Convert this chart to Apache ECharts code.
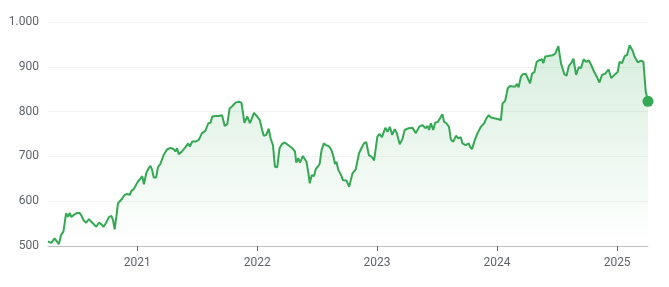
<!DOCTYPE html>
<html>
<head>
<meta charset="utf-8">
<script src="https://cdn.jsdelivr.net/npm/echarts@6/dist/echarts.min.js"></script>
<style>
html,body{margin:0;padding:0;background:#fff;}
#c{width:669px;height:287px;}
</style>
</head>
<body>
<div id="c"></div>
<script>
const dates = [
'2020-04-04','2020-04-14','2020-04-24','2020-04-29','2020-05-07','2020-05-14','2020-05-21','2020-05-29',
'2020-06-04','2020-06-09','2020-06-14','2020-06-21','2020-06-29','2020-07-09','2020-07-14','2020-07-21',
'2020-07-29','2020-08-07','2020-08-14','2020-08-19','2020-08-29','2020-09-06','2020-09-13','2020-09-20',
'2020-09-28','2020-10-07','2020-10-14','2020-10-19','2020-10-24','2020-10-29','2020-11-03','2020-11-10',
'2020-11-16','2020-11-23','2020-12-01','2020-12-09','2020-12-14','2020-12-21','2020-12-27','2021-01-03',
'2021-01-11','2021-01-16','2021-01-21','2021-01-28','2021-02-04','2021-02-10','2021-02-15','2021-02-20',
'2021-02-27','2021-03-05','2021-03-12','2021-03-22','2021-04-02','2021-04-12','2021-04-22','2021-04-27',
'2021-05-02','2021-05-07','2021-05-17','2021-05-27','2021-06-05','2021-06-10','2021-06-17','2021-06-27',
'2021-07-07','2021-07-17','2021-07-27','2021-08-05','2021-08-12','2021-08-17','2021-08-27','2021-09-06',
'2021-09-16','2021-09-24','2021-10-02','2021-10-09','2021-10-17','2021-10-22','2021-10-27','2021-11-06',
'2021-11-14','2021-11-19','2021-11-23','2021-12-02','2021-12-10','2021-12-22','2022-01-01','2022-01-09',
'2022-01-16','2022-01-21','2022-01-29','2022-02-05','2022-02-11','2022-02-18','2022-02-24','2022-03-03',
'2022-03-10','2022-03-18','2022-03-26','2022-04-06','2022-04-18','2022-04-26','2022-04-30','2022-05-06',
'2022-05-11','2022-05-16','2022-05-20','2022-05-26','2022-05-31','2022-06-06','2022-06-10','2022-06-16',
'2022-06-23','2022-06-28','2022-07-03','2022-07-10','2022-07-16','2022-07-23','2022-07-30','2022-08-07',
'2022-08-14','2022-08-20','2022-08-26','2022-08-30','2022-09-05','2022-09-15','2022-09-19','2022-09-25',
'2022-09-30','2022-10-08','2022-10-18','2022-10-28','2022-11-07','2022-11-17','2022-11-22','2022-11-29',
'2022-12-07','2022-12-17','2022-12-23','2023-01-02','2023-01-08','2023-01-16','2023-01-26','2023-02-02',
'2023-02-09','2023-02-16','2023-02-24','2023-03-02','2023-03-11','2023-03-19','2023-03-26','2023-04-07',
'2023-04-19','2023-04-29','2023-05-10','2023-05-19','2023-05-29','2023-06-04','2023-06-08','2023-06-14',
'2023-06-21','2023-06-27','2023-07-05','2023-07-11','2023-07-19','2023-07-24','2023-07-31','2023-08-08',
'2023-08-14','2023-08-21','2023-08-29','2023-09-06','2023-09-13','2023-09-18','2023-09-28','2023-10-07',
'2023-10-11','2023-10-17','2023-10-24','2023-11-03','2023-11-13','2023-11-23','2023-11-30','2023-12-07',
'2023-12-14','2023-12-24','2023-12-29','2024-01-06','2024-01-13','2024-01-18','2024-01-26','2024-02-03',
'2024-02-10','2024-02-18','2024-02-26','2024-03-02','2024-03-07','2024-03-14','2024-03-21','2024-03-29',
'2024-04-04','2024-04-11','2024-04-17','2024-04-24','2024-05-01','2024-05-09','2024-05-17','2024-05-21',
'2024-05-27','2024-06-04','2024-06-08','2024-06-19','2024-06-27','2024-07-06','2024-07-14','2024-07-24',
'2024-07-31','2024-08-07','2024-08-14','2024-08-21','2024-08-29','2024-09-06','2024-09-13','2024-09-21',
'2024-09-28','2024-10-07','2024-10-14','2024-10-23','2024-10-31','2024-11-08','2024-11-16','2024-11-26',
'2024-12-06','2024-12-14','2024-12-24','2025-01-03','2025-01-08','2025-01-16','2025-01-24','2025-01-31',
'2025-02-08','2025-02-17','2025-02-23','2025-03-05','2025-03-15','2025-03-22','2025-03-29','2025-04-05'
];
const values = [
510,507,517,521,504,525,532,573,
565,574,565,569,573,574,569,558,
552,560,554,551,543,552,549,543,
552,565,567,558,537,565,595,601,
606,614,616,614,623,627,627,644,
651,656,638,662,673,679,670,653,
653,676,683,703,716,719,716,711,
718,705,711,720,729,722,733,733,
737,752,757,774,775,789,790,790,
792,768,772,807,812,811,820,822,
820,796,775,789,774,797,789,781,
759,746,748,762,740,725,677,676,
718,728,731,725,718,711,686,696,
686,694,701,701,688,662,640,658,
656,671,673,683,714,729,725,723,
716,703,683,688,670,656,647,649,
646,632,662,671,707,722,729,732,
703,698,691,744,750,743,764,755,
766,748,761,752,727,738,759,763,
764,752,767,770,763,768,759,774,
759,775,777,775,794,777,774,766,
737,733,746,740,743,729,725,729,
722,716,733,752,766,774,785,792,
787,785,781,783,781,818,824,852,
857,856,856,862,854,878,884,884,
882,863,885,888,911,915,917,908,
923,924,921,926,930,946,908,884,
880,902,908,918,882,899,897,917,
911,914,904,889,878,865,882,885,
894,875,882,889,911,908,924,926,
948,936,923,910,914,911,845,823
];
const yearTicks = ['2021-01-01','2022-01-01','2023-01-01','2024-01-01','2025-01-01'];
const yTicks = [500,600,700,800,900,1000];

const green = '#34a853';
const toTs = s => Date.UTC(+s.slice(0,4), +s.slice(5,7)-1, +s.slice(8,10));
const seriesData = dates.map((d,i)=>[toTs(d), values[i]]);
const last = seriesData[seriesData.length-1];
const yearTs = yearTicks.map(toTs);

const chart = echarts.init(document.getElementById('c'), null, {renderer:'canvas'});
chart.setOption({
  animation:false,
  backgroundColor:'#fff',
  grid:{left:48,right:21,top:22,bottom:41,containLabel:false},
  xAxis:{
    type:'value',
    min:seriesData[0][0], max:last[0],
    axisLine:{show:true,lineStyle:{color:'#bdc1c6',width:1}},
    axisTick:{show:true,customValues:yearTs,length:5,lineStyle:{color:'#5f6368',width:1}},
    axisLabel:{customValues:yearTs,color:'#5f6368',fontSize:12,fontFamily:'Roboto',margin:11,
      formatter:v=>String(new Date(v).getUTCFullYear())},
    splitLine:{show:false}
  },
  yAxis:{
    type:'value',min:yTicks[0],max:yTicks[yTicks.length-1],interval:100,
    axisLine:{show:false},axisTick:{show:false},
    axisLabel:{color:'#5f6368',fontSize:12,fontFamily:'Roboto',margin:9,
      formatter:v=>String(v).replace(/\B(?=(\d{3})+(?!\d))/g,'.')},
    splitLine:{show:true,lineStyle:{color:'#f1f3f4',width:1}}
  },
  series:[
    {type:'line',data:seriesData,showSymbol:false,symbol:'none',
     lineStyle:{color:green,width:2},
     areaStyle:{color:new echarts.graphic.LinearGradient(0,0,0,1,[
        {offset:0,color:'rgba(52,168,83,0.28)'},
        {offset:1,color:'rgba(52,168,83,0)'}])},
     z:2},
    {type:'scatter',data:[last],symbol:'circle',symbolSize:11,
     itemStyle:{color:green,opacity:1},z:3}
  ]
});
</script>
</body>
</html>
